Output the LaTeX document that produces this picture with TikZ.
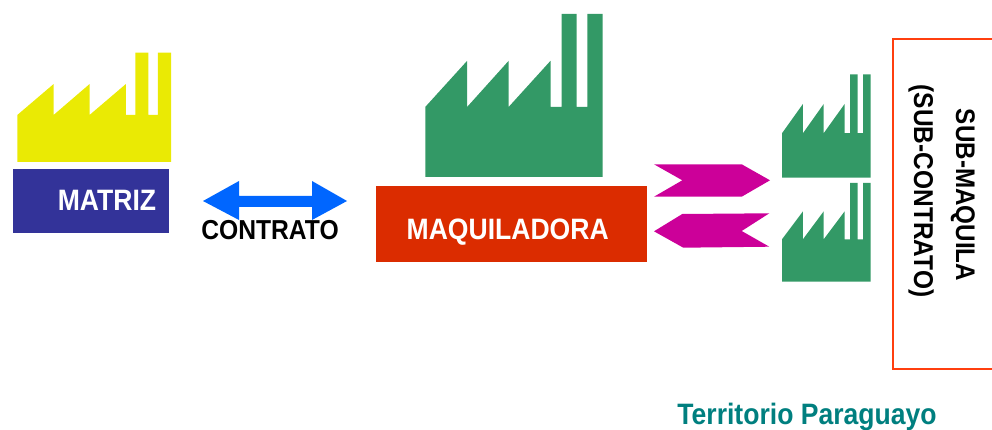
\documentclass[tikz,border=0pt]{standalone}
\usepackage{fontspec}
\setmainfont[FakeStretch=0.9]{Liberation Sans}
\newcommand{\labelfont}[1]{\bfseries\fontsize{#1}{#1}\selectfont}
\definecolor{factoryyellow}{HTML}{EAEA04}
\definecolor{factorygreen}{HTML}{339966}
\definecolor{matrizblue}{HTML}{333399}
\definecolor{maquilared}{HTML}{DB2C00}
\definecolor{linkmagenta}{HTML}{CC0099}
\definecolor{contratoblue}{HTML}{0066FF}
\definecolor{frameorange}{HTML}{FF3F0F}
\definecolor{territoryteal}{HTML}{007F7F}
\tikzset{
	pics/factory/.style={code={
		\fill[#1] (0, 1) -- (0, 0.57) -- (0.236, 0.287) -- (0.236, 0.57) -- (0.47, 0.287) -- (0.47, 0.57)
			-- (0.706, 0.287) -- (0.706, 0.57) -- (0.768, 0.57) -- (0.768, 0) -- (0.853, 0) -- (0.853, 0.57)
			-- (0.914, 0.57) -- (0.914, 0) -- (1, 0) -- (1, 1) -- cycle;
	}},
	boxlabel/.style={anchor=base, inner sep=0, font=\labelfont{#1}},
}
\begin{document}
\begin{tikzpicture}[x=1pt, y=-1pt]
	\useasboundingbox (0, 0) rectangle (992, 430);
	% factories
	\pic[xscale=153.7, yscale=109.3] at (17.3, 52.7) {factory=factoryyellow};
	\pic[xscale=177.4, yscale=163] at (425.3, 14) {factory=factorygreen};
	\pic[xscale=88.7, yscale=103.4] at (782, 74.3) {factory=factorygreen};
	\pic[xscale=88.7, yscale=98.7] at (782, 183) {factory=factorygreen};

	\fill[matrizblue] (13.3, 169) rectangle (169, 232.7);
	\fill[maquilared] (376, 186) rectangle (647, 262);

	% arrows
	\fill[contratoblue] (203, 201) -- (239, 181) -- (239, 196) -- (312, 196) -- (312, 181) -- (347, 201)
		-- (312, 220) -- (312, 207) -- (239, 207) -- (239, 220) -- cycle;
	\fill[linkmagenta] (654, 164.3) -- (741.7, 164.3) -- (770, 180.3) -- (741.7, 196.7) -- (654, 196.7) -- (682.3, 180.3) -- cycle;
	\fill[linkmagenta] (654, 231.3) -- (682.3, 214) -- (769.3, 213.3) -- (741.7, 231) -- (769.3, 246.7) -- (683.3, 247.7) -- cycle;

	\draw[frameorange, line width=1.6] (992, 39.3) -- (892.7, 39.3) -- (892.7, 369) -- (992, 369);

	% labels
	\node[boxlabel=29.5, white] (matriz) at (107, 211) {MATRIZ};
	\node[boxlabel=29.5, white] (maquiladora) at (507.7, 240) {MAQUILADORA};
	\node[boxlabel=27.4] (contrato) at (270, 240) {CONTRATO};
	\node[boxlabel=26.9, rotate=-90] (submaquila) at (956, 195) {SUB-MAQUILA};
	\node[boxlabel=27.2, rotate=-90] (subcontrato) at (914, 191) {(SUB-CONTRATO)};
	\node[boxlabel=29.5, territoryteal] (territorio) at (807, 424) {Territorio Paraguayo};
\end{tikzpicture}
\end{document}
